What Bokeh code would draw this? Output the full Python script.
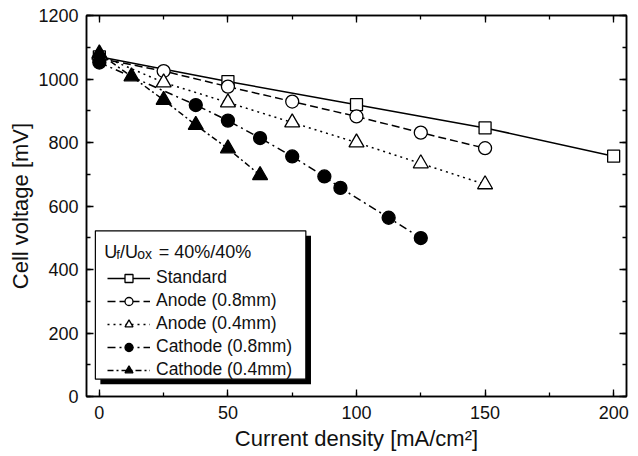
from bokeh.plotting import figure
from bokeh.models import (Range1d, LinearAxis, SingleIntervalTicker, Legend, LegendItem,
                          BoxAnnotation, Label)
from bokeh.embed import file_html
from bokeh.resources import INLINE

FONT = "Liberation Sans"

# ---- data ----
x_std = [0, 50, 100, 150, 200]
y_std = [1070, 992, 919, 846, 757]

x_a08 = [0, 25, 50, 75, 100, 125, 150]
y_a08 = [1065, 1025, 976, 929, 882, 831, 782]

x_a04 = [0, 25, 50, 75, 100, 125, 150]
y_a04 = [1076, 989, 926, 863, 800, 734, 668]

x_c08 = [0, 37.5, 50, 62.5, 75, 87.5, 93.75, 112.5, 125]
y_c08 = [1052, 918, 869, 814, 756, 693, 657, 563, 499]

x_c04 = [0, 12.5, 25, 37.5, 50, 62.5]
y_c04 = [1080, 1008, 934, 855, 781, 697]

names = ["Standard", "Anode (0.8mm)", "Anode (0.4mm)", "Cathode (0.8mm)", "Cathode (0.4mm)"]

p = figure(frame_width=540, frame_height=381, min_border_left=74, min_border_right=3,
           min_border_top=15, min_border_bottom=50, output_backend="svg",
           toolbar_location=None, x_axis_label="Current density [mA/cm²]",
           y_axis_label="Cell voltage [mV]")
p.margin = (0, 0, 0, 5)
p.x_range = Range1d(-5, 205)
p.y_range = Range1d(0, 1200)
p.xgrid.visible = False
p.ygrid.visible = False
p.outline_line_color = "black"
p.outline_line_width = 1.5
p.background_fill_color = "white"
p.border_fill_color = "white"

xt = SingleIntervalTicker(interval=50, num_minor_ticks=2)
yt = SingleIntervalTicker(interval=200, num_minor_ticks=2)
p.xaxis.ticker = xt
p.yaxis.ticker = yt

def style_axis(ax, show_labels):
    ax.axis_line_color = "black"
    ax.axis_line_width = 1.5
    ax.major_tick_in = 7
    ax.major_tick_out = 0
    ax.minor_tick_in = 4
    ax.minor_tick_out = 0
    ax.major_tick_line_color = "black"
    ax.minor_tick_line_color = "black"
    ax.major_tick_line_width = 1.3
    ax.minor_tick_line_width = 1.3
    if show_labels:
        ax.major_label_text_font = FONT
        ax.major_label_text_font_size = "18px"
        ax.major_label_text_color = "#111111"
        ax.axis_label_text_font = FONT
        ax.axis_label_text_font_size = "22px"
        ax.axis_label_text_font_style = "normal"
        ax.axis_label_text_color = "#111111"
    else:
        ax.major_label_text_font_size = "1px"
        ax.major_label_text_color = None
        ax.major_label_standoff = 0
        ax.axis_label = None

style_axis(p.xaxis[0], True)
style_axis(p.yaxis[0], True)
p.xaxis[0].major_label_standoff = 9
p.xaxis[0].axis_label_standoff = 4
p.yaxis[0].major_label_standoff = 8
p.yaxis[0].axis_label_standoff = 2

top = LinearAxis(ticker=SingleIntervalTicker(interval=50, num_minor_ticks=2))
right = LinearAxis(ticker=SingleIntervalTicker(interval=200, num_minor_ticks=2))
style_axis(top, False)
style_axis(right, False)
p.add_layout(top, "above")
p.add_layout(right, "right")

LW = 1.5
series = [
    (x_std, y_std, "solid", "square", 12, "white"),
    (x_a08, y_a08, "8 4", "circle", 13, "white"),
    (x_a04, y_a04, "2 4", "triangle", 15, "white"),
    (x_c08, y_c08, "8 4 2 4", "circle", 13, "black"),
    (x_c04, y_c04, "6 3 2 3", "triangle", 15, "black"),
]
items = []
for (xs, ys, dash, marker, size, fill), name in zip(series, names):
    ln = p.line(xs, ys, line_color="black", line_width=LW, line_dash=dash)
    sc = p.scatter(xs, ys, marker=marker, size=size, fill_color=fill,
                   line_color="black", line_width=1.3)
    items.append(LegendItem(label=name, renderers=[ln, sc]))

# legend frame with drop shadow
shadow = BoxAnnotation(left=0.39, right=82.3, top=506.1, bottom=38.7,
                       fill_color="black", fill_alpha=1.0, line_alpha=0)
box = BoxAnnotation(left=-1.55, right=80.3, top=521.9, bottom=54.5,
                    fill_color="white", fill_alpha=1.0, line_color="black",
                    line_width=1.2, line_alpha=1.0)
p.add_layout(shadow)
p.add_layout(box)

legend = Legend(items=items, location=(21, 16), padding=0, margin=0,
                spacing=2, glyph_width=43, glyph_height=20, label_height=20,
                label_standoff=6, label_text_font=FONT, label_text_font_size="17.5px",
                label_text_color="#111111",
                background_fill_alpha=0, border_line_alpha=0)
p.add_layout(legend)

# legend title U_f/U_ox = 40%/40%
title_parts = [
    ("U", 1.94, 456, "18px"),
    ("f", 6.6, 447.5, "13px"),
    ("/U", 8.0, 456, "18px"),
    ("ox", 14.7, 447.5, "14px"),
    ("= 40%/40%", 23.08, 456, "18px"),
]
for txt, tx, ty, fs in title_parts:
    p.add_layout(Label(x=tx, y=ty, text=txt, text_font=FONT, text_font_size=fs,
                       text_color="#111111", text_baseline="alphabetic",
                       text_align="left"))

open("out.html", "w").write(file_html(p, INLINE))
